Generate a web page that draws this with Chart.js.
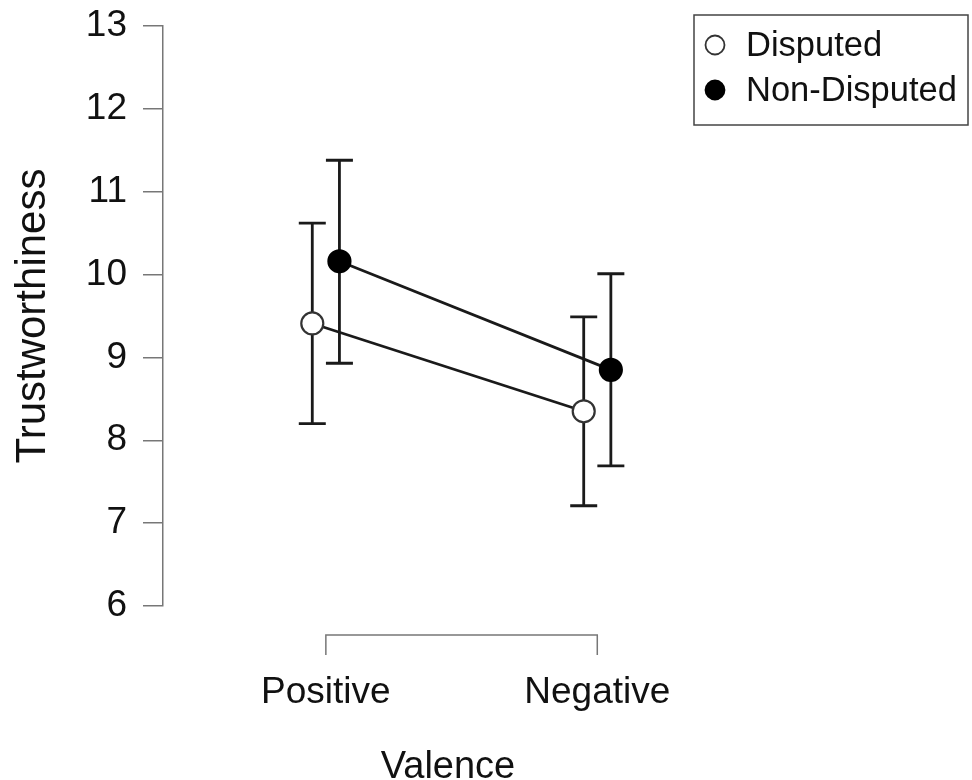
<!DOCTYPE html>
<html>
<head>
<meta charset="utf-8">
<script src="https://cdn.jsdelivr.net/npm/chart.js@4.4.1/dist/chart.umd.min.js"></script>
<style>
  html, body { margin: 0; padding: 0; background: #fff; }
  #wrap { width: 972px; height: 780px; }
</style>
</head>
<body>
<div id="wrap"><canvas id="trustChart" width="972" height="780"></canvas></div>
<script>
// values
const valence = ['Positive', 'Negative'];
const yTicks = [6, 7, 8, 9, 10, 11, 12, 13];
const seriesNames = ['Disputed', 'Non-Disputed'];

const disputedMean = [9.41, 8.35];
const disputedLow = [8.20, 7.21];
const disputedHigh = [10.62, 9.49];

const nonDisputedMean = [10.16, 8.85];
const nonDisputedLow = [8.93, 7.69];
const nonDisputedHigh = [11.38, 10.01];

const dodge = 0.05; // horizontal offset of the two groups around each category

const FONT = "'Liberation Sans', Arial, sans-serif";
const AXIS_GREY = '#777';
const INK = '#1a1a1a';

function makePoints(means, lows, highs, shift) {
    return valence.map((v, i) => ({ x: i + 1 + shift, y: means[i], lo: lows[i], hi: highs[i] }));
}

// draws the vertical error bars with caps, under the points
const errorBars = {
    id: 'errorBars',
    beforeDatasetsDraw(chart) {
        const ctx = chart.ctx;
        const yScale = chart.scales.y;
        const cap = 13.5;
        ctx.save();
        ctx.strokeStyle = INK;
        ctx.lineWidth = 2.8;
        chart.data.datasets.forEach((ds, di) => {
            const meta = chart.getDatasetMeta(di);
            meta.data.forEach((pt, i) => {
                const x = pt.x;
                const yLo = yScale.getPixelForValue(ds.data[i].lo);
                const yHi = yScale.getPixelForValue(ds.data[i].hi);
                ctx.beginPath();
                ctx.moveTo(x, yLo); ctx.lineTo(x, yHi);
                ctx.moveTo(x - cap, yLo); ctx.lineTo(x + cap, yLo);
                ctx.moveTo(x - cap, yHi); ctx.lineTo(x + cap, yHi);
                ctx.stroke();
            });
        });
        ctx.restore();
    }
};

// R-style bracket for the category axis
const categoryBracket = {
    id: 'categoryBracket',
    afterDraw(chart) {
        const ctx = chart.ctx;
        const xScale = chart.scales.x;
        const x1 = xScale.getPixelForValue(1);
        const x2 = xScale.getPixelForValue(valence.length);
        const y = chart.chartArea.bottom + 29;
        ctx.save();
        ctx.strokeStyle = AXIS_GREY;
        ctx.lineWidth = 1.5;
        ctx.beginPath();
        ctx.moveTo(x1, y + 20); ctx.lineTo(x1, y);
        ctx.lineTo(x2, y); ctx.lineTo(x2, y + 20);
        ctx.stroke();
        ctx.restore();
    }
};

// boxed legend in the top right corner
const boxLegend = {
    id: 'boxLegend',
    afterDraw(chart) {
        const ctx = chart.ctx;
        const left = 694, top = 15, right = 968, bottom = 125;
        ctx.save();
        ctx.strokeStyle = '#444';
        ctx.lineWidth = 1.5;
        ctx.strokeRect(left, top, right - left, bottom - top);
        ctx.font = '34.5px ' + FONT;
        ctx.textBaseline = 'middle';
        chart.data.datasets.forEach((ds, i) => {
            const cy = 45 + i * 45;
            ctx.beginPath();
            ctx.arc(715, cy, 9.5, 0, Math.PI * 2);
            ctx.fillStyle = ds.pointBackgroundColor;
            ctx.fill();
            ctx.lineWidth = 1.8;
            ctx.strokeStyle = ds.pointBorderColor;
            ctx.stroke();
            ctx.fillStyle = '#111';
            ctx.fillText(ds.label, 746, cy + 1);
        });
        ctx.restore();
    }
};

const ctx = document.getElementById('trustChart').getContext('2d');
new Chart(ctx, {
    type: 'line',
    data: {
        datasets: [
            {
                label: seriesNames[0],
                data: makePoints(disputedMean, disputedLow, disputedHigh, -dodge),
                borderColor: INK,
                borderWidth: 2.8,
                pointRadius: 11,
                pointBorderWidth: 2.2,
                pointBackgroundColor: '#ffffff',
                pointBorderColor: '#333',
                tension: 0,
            },
            {
                label: seriesNames[1],
                data: makePoints(nonDisputedMean, nonDisputedLow, nonDisputedHigh, dodge),
                borderColor: INK,
                borderWidth: 2.8,
                pointRadius: 11,
                pointBorderWidth: 2.2,
                pointBackgroundColor: '#000000',
                pointBorderColor: '#000000',
                tension: 0,
            }
        ]
    },
    options: {
        responsive: false,
        animation: false,
        devicePixelRatio: 1,
        layout: { padding: { top: 26, right: 239, bottom: 0, left: 0 } },
        plugins: {
            legend: { display: false },
            tooltip: { enabled: false }
        },
        scales: {
            x: {
                type: 'linear',
                min: 0.4,
                max: 2.5,
                afterBuildTicks: s => { s.ticks = valence.map((v, i) => ({ value: i + 1 })); },
                afterFit: s => { s.height = 174; },
                grid: { display: false },
                border: { display: false },
                ticks: {
                    padding: 57,
                    color: '#111',
                    font: { family: FONT, size: 37 },
                    maxRotation: 0,
                    autoSkip: false,
                    callback: v => valence[v - 1]
                },
                title: {
                    display: true,
                    text: 'Valence',
                    color: '#111',
                    font: { family: FONT, size: 38, lineHeight: 1 },
                    padding: { top: 0, bottom: -7 }
                }
            },
            y: {
                min: 6,
                max: 13,
                afterBuildTicks: s => { s.ticks = yTicks.map(v => ({ value: v })); },
                afterFit: s => { s.width = 163; s.paddingTop = 0; s.paddingBottom = 0; },
                grid: {
                    drawOnChartArea: false,
                    tickLength: 20,
                    color: AXIS_GREY,
                    lineWidth: 1.5
                },
                border: { color: AXIS_GREY, width: 1.5 },
                ticks: {
                    padding: 16,
                    color: '#111',
                    font: { family: FONT, size: 37 }
                },
                title: {
                    display: true,
                    text: 'Trustworthiness',
                    color: '#111',
                    font: { family: FONT, size: 42, lineHeight: 1 },
                    padding: { top: 12, bottom: 0 }
                }
            }
        }
    },
    plugins: [errorBars, categoryBracket, boxLegend]
});
</script>
</body>
</html>
